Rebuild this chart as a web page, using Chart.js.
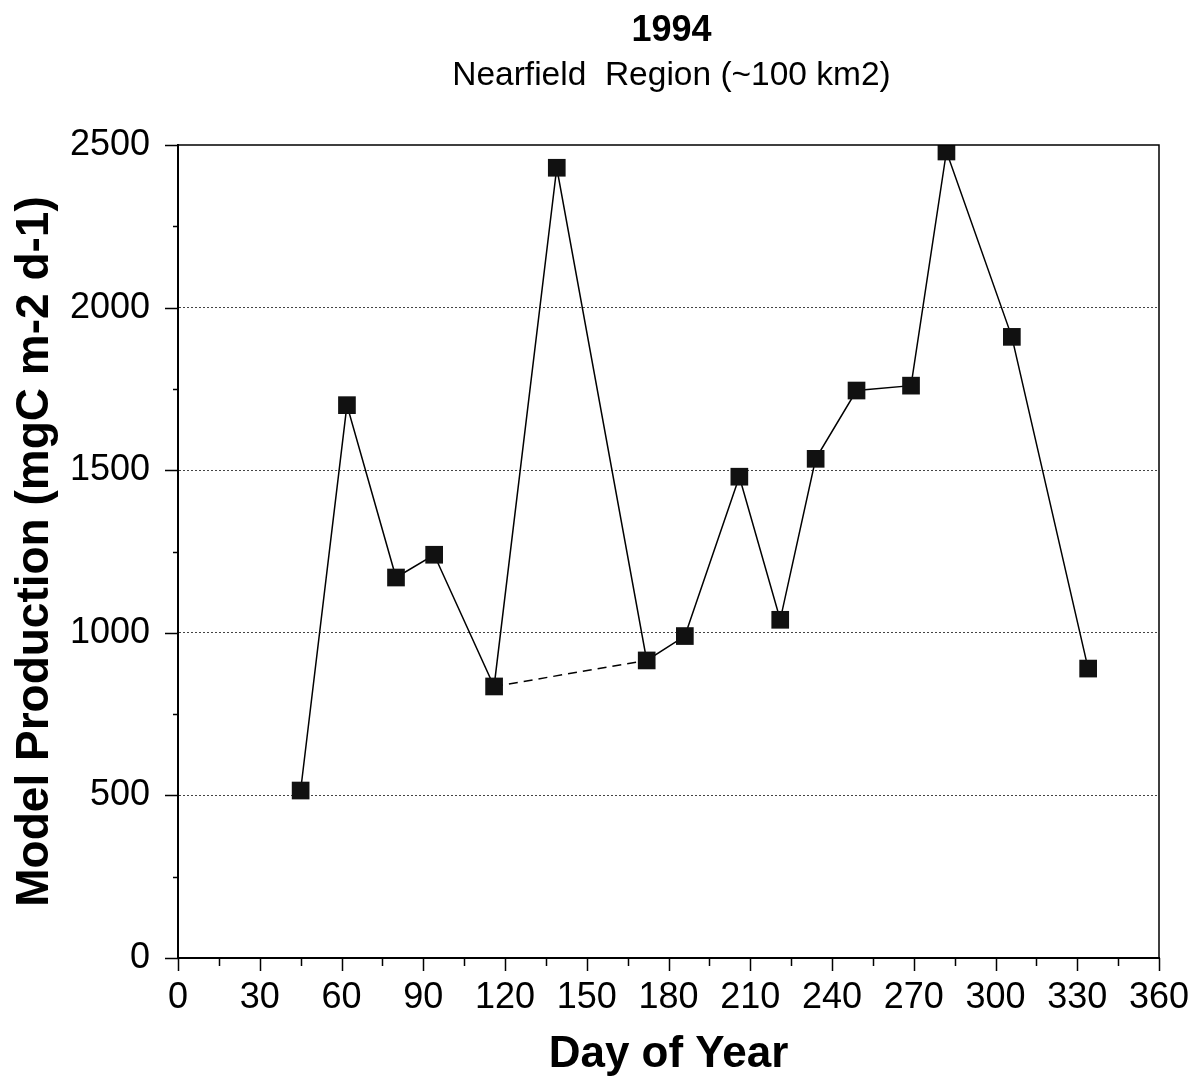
<!DOCTYPE html>
<html>
<head>
<meta charset="utf-8">
<script src="https://cdn.jsdelivr.net/npm/chart.js@4.4.1/dist/chart.umd.min.js"></script>
<style>
  html, body { margin: 0; padding: 0; background: #fff; }
  #wrap { width: 1193px; height: 1082px; }
</style>
</head>
<body>
<div id="wrap"><canvas id="prodChart" width="1193" height="1082"></canvas></div>
<script>
// data
const days = [45, 62, 80, 94, 116, 139, 172, 186, 206, 221, 234, 249, 269, 282, 306, 334];
const production = [515, 1700, 1170, 1240, 835, 2430, 915, 990, 1480, 1040, 1535, 1745, 1760, 2480, 1910, 890];
// dashed link drawn past the day-139 spike
const bridgeDays = [116, 172];
const bridgeValues = [835, 915];
const xTicks = [0, 30, 60, 90, 120, 150, 180, 210, 240, 270, 300, 330, 360];
const yTicks = [0, 500, 1000, 1500, 2000, 2500];

const titleText = '1994';
const subtitleText = 'Nearfield  Region (~100 km2)';
const FONT = '"Liberation Sans", Arial, sans-serif';

// titles, plot frame and major/minor tick marks
const frameAndTicks = {
    id: 'frameAndTicks',
    afterDraw(chart) {
        const ctx = chart.ctx;
        const a = chart.chartArea;
        const xs = chart.scales.x, ys = chart.scales.y;
        ctx.save();
        ctx.strokeStyle = '#000';
        ctx.lineWidth = 1.5;
        ctx.beginPath();
        ctx.moveTo(a.left, a.top);
        ctx.lineTo(a.right, a.top);
        ctx.lineTo(a.right, a.bottom);
        ctx.stroke();

        ctx.beginPath();
        for (let d = 0; d <= 360; d += 15) {
            const px = Math.round(xs.getPixelForValue(d)) + 0.5;
            const len = d % 30 === 0 ? 13 : 8;
            ctx.moveTo(px, a.bottom);
            ctx.lineTo(px, a.bottom + len);
        }
        for (let v = 0; v <= 2500; v += 250) {
            const py = Math.round(ys.getPixelForValue(v)) + 0.5;
            const len = v % 500 === 0 ? 13 : 5;
            ctx.moveTo(a.left - len, py);
            ctx.lineTo(a.left, py);
        }
        ctx.stroke();

        const cx = (a.left + a.right) / 2 + 3;
        ctx.fillStyle = '#000';
        ctx.textAlign = 'center';
        ctx.textBaseline = 'middle';
        ctx.font = 'bold 36px ' + FONT;
        ctx.fillText(titleText, cx, 31);
        ctx.font = '33.5px ' + FONT;
        ctx.fillText(subtitleText, cx, 76);
        ctx.restore();
    }
};

new Chart(document.getElementById('prodChart'), {
    type: 'line',
    data: {
        datasets: [{
            data: days.map((d, i) => ({ x: d, y: production[i] })),
            borderColor: '#000',
            borderWidth: 1.5,
            backgroundColor: '#000',
            pointStyle: 'rect',
            pointRadius: 12.5,
            pointBorderWidth: 0,
            pointBackgroundColor: '#111',
            tension: 0
        }, {
            data: bridgeDays.map((d, i) => ({ x: d, y: bridgeValues[i] })),
            borderColor: '#000',
            borderWidth: 1.5,
            borderDash: [9, 6],
            pointRadius: 0,
            tension: 0
        }]
    },
    options: {
        responsive: false,
        animation: false,
        layout: { padding: { top: 145, right: 34, bottom: 0, left: 0 } },
        plugins: {
            legend: { display: false },
            tooltip: { enabled: false }
        },
        scales: {
            x: {
                type: 'linear',
                min: 0,
                max: 360,
                afterFit: s => { s.height = 124; s.paddingRight = 0; s.paddingLeft = 0; },
                afterBuildTicks: s => { s.ticks = xTicks.map(v => ({ value: v })); },
                ticks: {
                    padding: 18,
                    color: '#000',
                    callback: v => String(v),
                    font: { family: FONT, size: 36 }
                },
                grid: { display: false, drawTicks: false },
                border: { display: true, color: '#000', width: 2 },
                title: {
                    display: true,
                    text: 'Day of Year',
                    color: '#000',
                    padding: { top: 0, bottom: 1 },
                    font: { family: FONT, size: 44, weight: 'bold' }
                }
            },
            y: {
                min: 0,
                max: 2500,
                afterFit: s => { s.width = 178; },
                afterBuildTicks: s => { s.ticks = yTicks.map(v => ({ value: v })); },
                ticks: {
                    padding: 28,
                    color: '#000',
                    callback: v => String(v),
                    font: { family: FONT, size: 36 }
                },
                grid: {
                    drawTicks: false,
                    lineWidth: 1,
                    color: c => (c.tick && (c.tick.value === 0 || c.tick.value === 2500)) ? 'rgba(0,0,0,0)' : '#444'
                },
                border: { display: true, color: '#000', width: 2, dash: [2, 2] },
                title: {
                    display: true,
                    text: 'Model Production (mgC m-2 d-1)',
                    color: '#000',
                    padding: { top: 8, bottom: 0 },
                    font: { family: FONT, size: 46, weight: 'bold' }
                }
            }
        }
    },
    plugins: [frameAndTicks]
});
</script>
</body>
</html>
